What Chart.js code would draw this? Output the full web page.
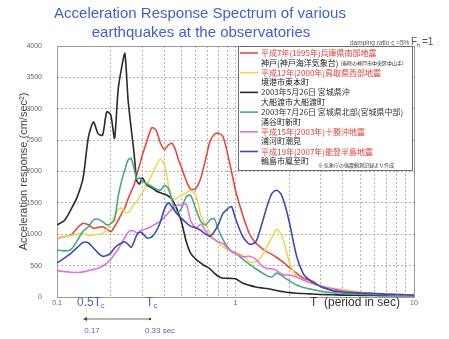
<!DOCTYPE html>
<html>
<head>
<meta charset="utf-8">
<script src="https://cdn.jsdelivr.net/npm/chart.js@4/dist/chart.umd.min.js"></script>
<style>
  html, body { margin: 0; padding: 0; background: #fff; }
  #wrap { width: 449px; height: 339px; }
</style>
</head>
<body>
<div id="wrap"><canvas id="c" width="449" height="339"></canvas></div>
<script>
// Natural period T (sec)
const periods = [0.10,0.11,0.12,0.13,0.14,0.15,0.16,0.17,0.18,0.19,0.20,0.21,0.22,0.23,0.24,0.25,0.26,0.27,0.28,0.29,0.30,
  0.32,0.34,0.36,0.38,0.40,0.42,0.44,0.46,0.48,0.50,
  0.53,0.56,0.60,0.64,0.68,0.72,0.76,0.80,0.85,0.90,0.95,
  1.0,1.1,1.2,1.3,1.4,1.5,1.6,1.7,1.8,1.9,2.0,
  2.2,2.4,2.6,2.8,3.0,
  3.5,4,4.5,5,6,7,8,9,10];

// Acceleration response (cm/sec^2), damping 5%
const kobe = [940,960,990,1100,1175,1150,1095,1110,1120,1080,1040,1120,1220,1330,1420,1560,1680,1780,1950,2100,2250,
  2500,2700,2650,2450,2350,2420,2450,2350,2180,2050,
  1850,1720,1730,1900,2200,2480,2590,2610,2560,2300,2000,
  1700,1300,1000,860,780,720,680,630,580,530,470,
  380,300,270,230,160,
  110,90,75,60,50,40,35,30,25];
const sakaiminato = [950,960,980,1000,1020,980,990,1000,1010,1080,1170,1280,1400,1420,1360,1340,1400,1480,1520,1600,1660,
  1800,1950,2100,2200,2100,1800,1580,1560,1600,1620,
  1660,1700,1620,1300,1150,1020,920,860,800,760,730,
  710,660,560,560,650,800,950,1080,1000,800,560,
  330,270,240,210,170,
  140,120,100,80,55,45,35,30,25];
const ofunato = [1150,1220,1400,1600,1900,2550,2790,2600,2580,2950,2900,2530,3300,3650,3880,3150,2700,2300,1850,1800,1900,
  1780,1740,1690,1660,1640,1610,1560,1460,1330,1180,
  880,700,600,540,490,450,380,330,300,300,295,
  290,220,185,160,145,135,120,105,90,80,70,
  60,55,50,45,40,
  35,30,30,25,25,20,20,20,20];
const wakuya = [750,735,760,900,1050,1120,1230,1240,1200,1150,1170,1230,1600,1850,2030,2180,2210,2050,1880,1900,1850,
  1800,1760,1720,1700,1780,1730,1550,1360,1360,1420,
  1600,1620,1400,1200,1150,1230,1250,1080,920,800,730,
  700,600,520,450,390,340,320,380,350,300,260,
  190,150,130,110,90,
  70,60,50,45,40,35,30,25,20];
const urakawa = [420,405,395,390,400,420,440,460,490,540,600,680,760,860,950,1030,1060,1050,1020,1040,1070,
  1090,1130,1170,1210,1270,1340,1400,1440,1470,1460,
  1480,1220,1100,1160,1050,960,920,880,850,780,720,
  690,640,650,600,500,455,450,420,370,350,350,
  320,270,230,200,170,
  130,100,80,70,55,45,40,35,30];
const wajima = [540,620,700,790,870,860,780,700,650,660,700,780,830,860,880,840,790,880,990,1030,1020,
  940,960,1050,1200,1400,1500,1440,1360,1300,1250,
  1180,1130,1100,1060,1000,970,1040,1150,1330,1400,1440,
  1250,960,840,880,1150,1440,1650,1700,1640,1450,1200,
  650,370,270,210,170,
  100,80,70,60,55,45,40,35,30];

const seriesValues = [kobe, sakaiminato, ofunato, wakuya, urakawa, wajima];
const seriesColors = ['#e24c3f', '#f0d84c', '#2a2a2a', '#4aa78a', '#df72e4', '#3c4db2'];
const eventNames = [
  '平成7年(1995年)兵庫県南部地震',
  '平成12年(2000年)鳥取県西部地震',
  '2003年5月26日 宮城県沖',
  '2003年7月26日 宮城県北部(宮城県中部)',
  '平成15年(2003年)十勝沖地震',
  '平成19年(2007年)能登半島地震'
];
const eventTextColors = ['#e0403a', '#e0403a', '#333', '#333', '#e0403a', '#e0403a'];
const stationNames = ['神戸(神戸海洋気象台)', '境港市東本町', '大船渡市大船渡町', '涌谷町新町', '浦河町潮見', '輪島市鳳至町'];
const stationNotes = ['(当時の神戸市中央区中山手)', '', '', '', '', ''];

// Axis ticks
const periodTicks = [0.1,0.2,0.3,0.4,0.5,0.6,0.7,0.8,0.9,1,2,3,4,5,6,7,8,9,10];
const labeledPeriods = [0.1, 1, 10];

const latin = 'Arial, "Liberation Sans", sans-serif';
const cjk = '"Noto Sans CJK JP", sans-serif';

const frame = {
  id: 'frame',
  beforeDatasetsDraw(chart) {
    const {ctx, chartArea: a} = chart;
    ctx.save();
    ctx.strokeStyle = '#9a9a9a';
    ctx.lineWidth = 1;
    ctx.strokeRect(Math.round(a.left) + 0.5, Math.round(a.top) + 0.5, Math.round(a.right - a.left), Math.round(a.bottom - a.top));
    ctx.restore();
  }
};

const legendBox = {
  id: 'legendBox',
  afterDraw(chart) {
    const ctx = chart.ctx;
    ctx.save();
    const x0 = 238, y0 = 46, x1 = 412, y1 = 170;
    ctx.fillStyle = '#fff';
    ctx.fillRect(x0, y0, x1 - x0, y1 - y0);
    ctx.strokeStyle = '#6e6e6e';
    ctx.lineWidth = 1;
    ctx.strokeRect(x0 + 0.5, y0 + 0.5, x1 - x0, y1 - y0);
    ctx.textBaseline = 'middle';
    chart.data.datasets.forEach((ds, i) => {
      const y = 53 + i * 19.7;
      ctx.strokeStyle = ds.borderColor;
      ctx.lineWidth = 1.6;
      ctx.beginPath();
      ctx.moveTo(240, y);
      ctx.lineTo(258, y);
      ctx.stroke();
      ctx.font = '8px ' + cjk;
      ctx.fillStyle = eventTextColors[i];
      ctx.fillText(eventNames[i], 261, y);
      ctx.fillStyle = '#222';
      ctx.fillText(stationNames[i], 261, y + 9.5);
      if (stationNotes[i]) {
        const w = ctx.measureText(stationNames[i]).width;
        ctx.font = '5px ' + cjk;
        ctx.fillText(stationNotes[i], 261 + w + 2, y + 10);
      }
    });
    ctx.font = '5px ' + cjk;
    ctx.fillStyle = '#333';
    ctx.fillText('※ 気象庁の強震観測記録より作成', 318, 165);
    ctx.restore();
  }
};

const annotations = {
  id: 'annotations',
  afterDraw(chart) {
    const ctx = chart.ctx;
    ctx.save();
    // heading
    ctx.fillStyle = '#3f62c4';
    ctx.font = '15px ' + latin;
    ctx.textAlign = 'center';
    ctx.textBaseline = 'middle';
    ctx.fillText('Acceleration Response Spectrum of various', 200, 14);
    ctx.fillText('earthquakes at the observatories', 201, 33);

    // damping note
    ctx.textAlign = 'left';
    ctx.fillStyle = '#555';
    ctx.font = '6.5px ' + latin;
    ctx.fillText('damping ratio ς =5%', 350, 43);
    ctx.font = '10px ' + latin;
    ctx.fillText('F', 411, 42);
    ctx.font = '6px ' + latin;
    ctx.fillText('h', 417, 45);
    ctx.font = '10px ' + latin;
    ctx.fillText('=1', 422, 42);

    // period axis caption
    ctx.fillStyle = '#333';
    ctx.font = '12px ' + latin;
    ctx.fillText('T  (period in sec)', 310, 303);

    // characteristic period marks
    ctx.fillStyle = '#4a63c0';
    ctx.font = '12px ' + latin;
    ctx.fillText('0.5T', 77, 303);
    ctx.font = '7px ' + latin;
    ctx.fillText('c', 101, 306);
    ctx.font = '12px ' + latin;
    ctx.fillText('T', 146, 303);
    ctx.font = '7px ' + latin;
    ctx.fillText('c', 154, 306);

    ctx.strokeStyle = '#444';
    ctx.fillStyle = '#444';
    ctx.lineWidth = 0.8;
    ctx.beginPath();
    ctx.moveTo(84, 319);
    ctx.lineTo(150, 319);
    ctx.stroke();
    ctx.beginPath();
    ctx.moveTo(83, 319); ctx.lineTo(87, 317); ctx.lineTo(87, 321); ctx.closePath(); ctx.fill();
    ctx.beginPath();
    ctx.arc(150, 319, 1.2, 0, Math.PI * 2); ctx.fill();

    ctx.fillStyle = '#4a63c0';
    ctx.font = '8px ' + latin;
    ctx.textAlign = 'center';
    ctx.fillText('0.17', 92, 331);
    ctx.fillText('0.33 sec', 160, 331);
    ctx.restore();
  }
};

const datasets = seriesValues.map((vals, i) => ({
  label: eventNames[i],
  data: vals.map((v, k) => ({x: periods[k], y: v})),
  borderColor: seriesColors[i],
  backgroundColor: seriesColors[i],
  borderWidth: 1.6,
  pointRadius: 0,
  tension: 0.25,
  fill: false,
  order: seriesValues.length - i
}));

new Chart(document.getElementById('c'), {
  type: 'line',
  data: { datasets },
  options: {
    responsive: false,
    animation: false,
    layout: { padding: { top: 46, right: 35, left: 0, bottom: 0 } },
    plugins: { legend: { display: false }, title: { display: false }, tooltip: { enabled: false } },
    scales: {
      x: {
        type: 'logarithmic',
        min: 0.1,
        max: 10,
        afterBuildTicks: (scale) => { scale.ticks = periodTicks.map(v => ({ value: v })); },
        afterFit: (scale) => { scale.height = 42; },
        grid: { color: '#b4b4b4', drawTicks: false, lineWidth: 1 },
        border: { display: false, dash: [2, 2] },
        ticks: {
          autoSkip: false,
          maxRotation: 0,
          padding: 2,
          color: '#666',
          font: { size: 7, family: latin },
          callback: (v) => labeledPeriods.includes(v) ? String(v) : ''
        }
      },
      y: {
        min: 0,
        max: 4000,
        afterFit: (scale) => { scale.width = 57; },
        grid: { color: '#b4b4b4', drawTicks: false, lineWidth: 1 },
        border: { display: false, dash: [2, 2] },
        ticks: {
          stepSize: 500,
          padding: 15,
          color: '#666',
          font: { size: 7, family: latin },
          callback: (v) => String(v)
        },
        title: {
          display: true,
          text: 'Acceleration response (cm/sec²)',
          color: '#444',
          font: { size: 11, family: latin },
          padding: { top: 17, bottom: 0 }
        }
      }
    }
  },
  plugins: [frame, legendBox, annotations]
});
</script>
</body>
</html>
